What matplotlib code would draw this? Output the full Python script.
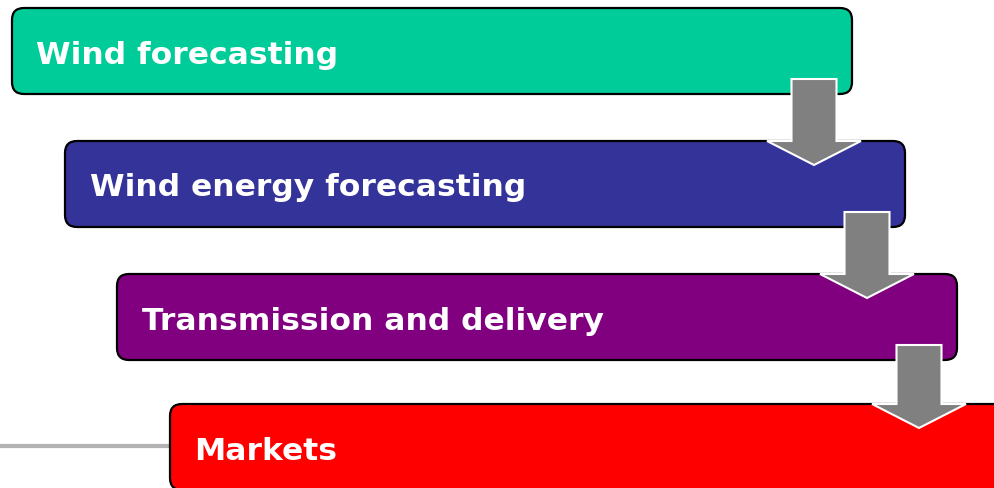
import matplotlib
matplotlib.use("Agg")
import matplotlib.pyplot as plt
from matplotlib.patches import FancyBboxPatch, Polygon

labels = ["Wind forecasting", "Wind energy forecasting",
          "Transmission and delivery", "Markets"]
box_colors = ["#00CC99", "#333399", "#800080", "#FF0000"]

W, H = 994, 489
fig = plt.figure(figsize=(W / 100, H / 100), dpi=100)
ax = fig.add_axes([0, 0, 1, 1])
ax.set_xlim(0, W)
ax.set_ylim(H, 0)
ax.axis("off")

# layout (pixels)
lefts = [12, 65, 117, 170]
tops = [9, 142, 275, 405]
bw, bh = 840, 86

# grey connector line left of last box
ax.plot([0, 172], [447, 447], color="#b3b3b3", lw=3, zorder=1, solid_capstyle="butt")

for i, (lab, col) in enumerate(zip(labels, box_colors)):
    x0, y0 = lefts[i], tops[i]
    p = FancyBboxPatch((x0, y0), bw, bh,
                       boxstyle="round,pad=0,rounding_size=12",
                       facecolor=col, edgecolor="black", lw=1.6, zorder=2)
    ax.add_patch(p)
    ax.text(x0 + 24.5, y0 + 54.5, lab, color="white", fontsize=22.6,
            fontweight="bold", family="DejaVu Sans", va="baseline", ha="left", zorder=3)

# arrows between boxes
for i in range(len(labels) - 1):
    cx = lefts[i] + bw - 38
    top = tops[i] + bh - 15
    head_top = tops[i + 1]
    tip = head_top + 24
    sw = 22.5
    hw = 47
    pts = [(cx - sw, top), (cx + sw, top), (cx + sw, head_top),
           (cx + hw, head_top), (cx, tip), (cx - hw, head_top),
           (cx - sw, head_top)]
    ax.add_patch(Polygon(pts, closed=True, facecolor="#808080",
                         edgecolor="white", lw=1.5, zorder=5))

fig.savefig("out.png", dpi=100)
